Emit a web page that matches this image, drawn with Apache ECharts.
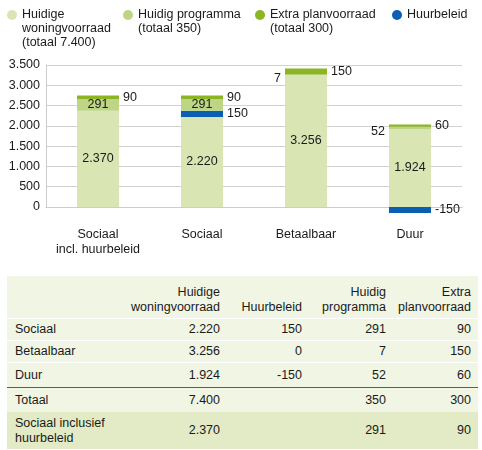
<!DOCTYPE html>
<html>
<head>
<meta charset="utf-8">
<script src="https://cdn.jsdelivr.net/npm/echarts@6/dist/echarts.min.js"></script>
<style>
  body { margin:0; background:#fff; font-family:"Liberation Sans", Arial, sans-serif; }
  #chart { position:absolute; left:0; top:0; width:482px; height:265px; }
  #tabel { position:absolute; left:7px; top:276px; width:471px; border-collapse:collapse; table-layout:fixed; font-size:12.5px; color:#1a1a1a; }
  #tabel td, #tabel th { padding:0 5px 0 0; text-align:right; font-weight:normal; border-bottom:1px solid #fff; background:#f1f5e4; line-height:15px; }
  #tabel td:first-child, #tabel th:first-child { text-align:left; padding-left:8px; }
  #tabel td:last-child, #tabel th:last-child { padding-right:7px; }
  #tabel tr.kop th { height:39px; vertical-align:bottom; padding-bottom:3px; }
  #tabel tr.rij td { height:21px; }
  #tabel tr.laatste-rij td { border-bottom:1px solid #1d6fa5; height:24px; }
  #tabel tr.totaal td { height:24px; border-bottom:none; }
  #tabel tr.extra td { height:37px; background:#e2ebc5; border-bottom:none; }
</style>
</head>
<body>
<div id="chart"></div>
<table id="tabel"></table>
<script>
var categorieen = ['Sociaal\nincl. huurbeleid', 'Sociaal', 'Betaalbaar', 'Duur']
var woningvoorraad = [2370, 2220, 3256, 1924]
var huurbeleid = ['-', 150, '-', -150]
var programma = [291, 291, 7, 52]
var planvoorraad = [90, 90, 150, 60]

var legendaNamen = ['Huidige woningvoorraad', 'Huidig programma', 'Extra planvoorraad', 'Huurbeleid']
var legendaTeksten = [
  ['Huidige', 'woningvoorraad', '(totaal 7.400)'],
  ['Huidig programma', '(totaal 350)'],
  ['Extra planvoorraad', '(totaal 300)'],
  ['Huurbeleid']
]
var yTicks = [0, 3500, 500]

// tabel
var tabelKop = ['', 'Huidige<br>woningvoorraad', 'Huurbeleid', 'Huidig<br>programma', 'Extra<br>planvoorraad']
var tabelRijen = [
  ['Sociaal', '2.220', '150', '291', '90'],
  ['Betaalbaar', '3.256', '0', '7', '150'],
  ['Duur', '1.924', '-150', '52', '60']
]
var tabelTotaal = ['Totaal', '7.400', '', '350', '300']
var tabelExtra = ['Sociaal inclusief<br>huurbeleid', '2.370', '', '291', '90']
var kolomBreedtes = [113, 105, 82, 84, 87]

var kleuren = ['#d9e6b4', '#bdd585', '#8bb522', '#0b5fb3']
var tekstKleur = '#1a1a1a'
var font = 'Liberation Sans'

function nl(v){
	return String(v).replace(/\B(?=(\d{3})+(?!\d))/g, '.')
}

function bouwTabel(){
	var t = document.getElementById('tabel')
	var html = '<colgroup>'
	kolomBreedtes.forEach(function(b){ html += "<col style='width:"+b+"px'>" })
	html += "</colgroup><tr class='kop'>"
	tabelKop.forEach(function(k){ html += '<th>'+k+'</th>' })
	html += '</tr>'
	tabelRijen.forEach(function(r,i){
		html += "<tr class='rij"+(i==tabelRijen.length-1?' laatste-rij':'')+"'>"
		r.forEach(function(c){ html += '<td>'+c+'</td>' })
		html += '</tr>'
	})
	html += "<tr class='totaal'>"
	tabelTotaal.forEach(function(c){ html += '<td>'+c+'</td>' })
	html += "</tr><tr class='extra'>"
	tabelExtra.forEach(function(c){ html += '<td>'+c+'</td>' })
	html += '</tr>'
	t.innerHTML = html
}
bouwTabel()

var chartDom = document.getElementById('chart')
var myChart = echarts.init(chartDom)

// vier losse legenda's zodat de posities kloppen
// lege regels ervoor zetten, zodat de eerste regel naast het bolletje staat
var legendaX = [7, 123, 255, 392]
var regelHoogte = 14
var legendas = legendaNamen.map(function(n,i){
	var regels = legendaTeksten[i]
	var leeg = []
	for (var k = 1; k < regels.length; k++) leeg.push(' ')
	var totaal = leeg.length + regels.length
	return {
		data: [n],
		left: legendaX[i],
		top: 15 - totaal*regelHoogte/2,
		padding: 0,
		icon: 'circle',
		itemWidth: 10,
		itemHeight: 10,
		itemGap: 0,
		selectedMode: false,
		formatter: function(){ return leeg.concat(regels).join('\n') },
		textStyle: { fontFamily: font, fontSize: 12.5, color: tekstKleur, lineHeight: regelHoogte }
	}
})

var labelBasis = { fontFamily: font, fontSize: 12.5, color: tekstKleur }

var option = {
	animation: false,
	legend: legendas,
	grid: { left: 46, right: 20, top: 65, bottom: 58 },
	xAxis: {
		type: 'category',
		data: categorieen,
		axisLine: { show: true, lineStyle: { color: '#cccccc' } },
		axisTick: { show: false },
		axisLabel: { interval: 0, fontFamily: font, fontSize: 12.5, color: tekstKleur, margin: 20, lineHeight: 15 }
	},
	yAxis: {
		type: 'value',
		min: yTicks[0],
		max: yTicks[1],
		interval: yTicks[2],
		axisLine: { show: true, lineStyle: { color: '#cccccc' } },
		splitLine: { lineStyle: { color: '#d2d2d2' } },
		axisLabel: { fontFamily: font, fontSize: 12.5, color: tekstKleur, margin: 6, formatter: function(v){ return nl(v) } }
	},
	series: [
		{
			name: legendaNamen[0], type: 'bar', stack: 'a', clip: false,
			barWidth: 42,
			data: woningvoorraad,
			itemStyle: { color: kleuren[0] },
			label: Object.assign({ show: true, position: 'inside', formatter: function(p){ return nl(p.value) } }, labelBasis)
		},
		{
			name: legendaNamen[3], type: 'bar', stack: 'a', clip: false,
			data: huurbeleid,
			itemStyle: { color: kleuren[3] },
			label: Object.assign({ show: true, position: 'right', distance: 4, formatter: function(p){ return p.value } }, labelBasis)
		},
		{
			name: legendaNamen[1], type: 'bar', stack: 'a', clip: false,
			data: programma.map(function(v){
				if (v < 100) return { value: v, label: { position: 'left', distance: 4, offset: [0, 4] } }
				return v
			}),
			itemStyle: { color: kleuren[1] },
			label: Object.assign({ show: true, position: 'inside' }, labelBasis)
		},
		{
			name: legendaNamen[2], type: 'bar', stack: 'a', clip: false,
			data: planvoorraad,
			itemStyle: { color: kleuren[2] },
			label: Object.assign({ show: true, position: 'right', distance: 4 }, labelBasis)
		}
	]
}

option && myChart.setOption(option)
</script>
</body>
</html>
